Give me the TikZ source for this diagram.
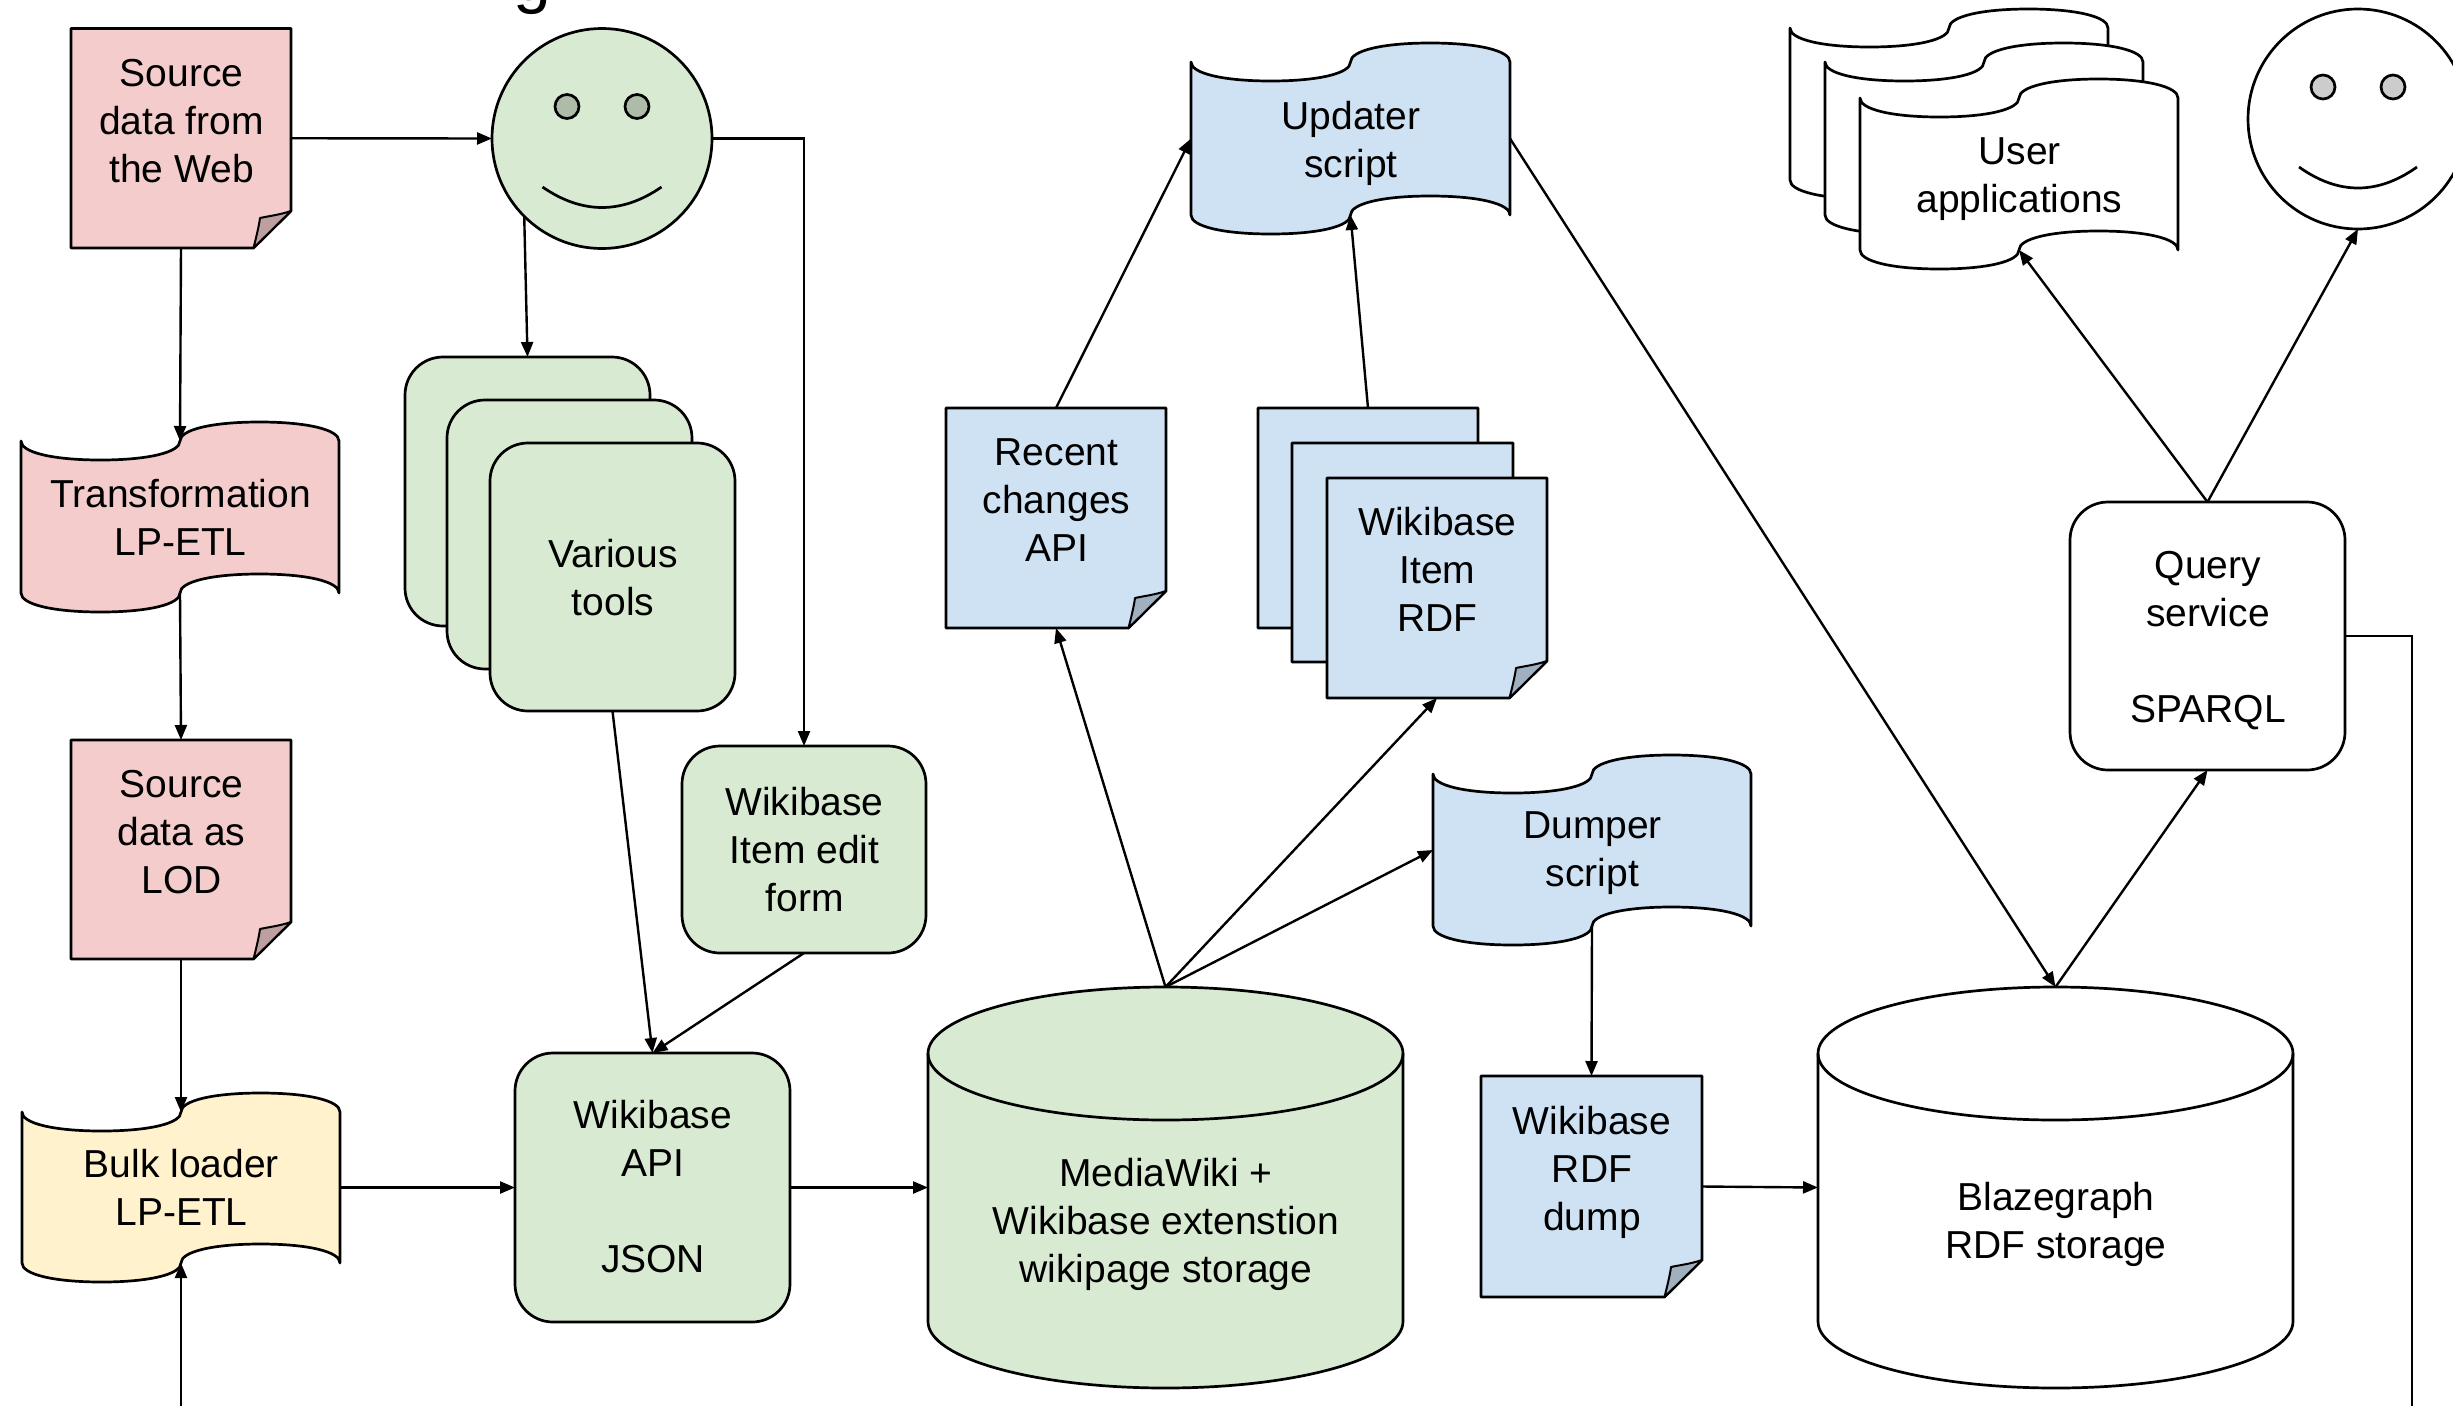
\documentclass[tikz,border=0pt]{standalone}
\usepackage{fontspec}
\setmainfont{Liberation Sans}
\usetikzlibrary{arrows.meta,calc}
\definecolor{rosefill}{HTML}{F4CCCC}
\definecolor{greenfill}{HTML}{D9EAD3}
\definecolor{bluefill}{HTML}{CFE2F3}
\definecolor{yellowfill}{HTML}{FFF2CC}
\tikzset{
  outline/.style={draw=black,line width=2.7pt,line join=round},
  anchorbox/.style={inner sep=0pt,outer sep=0pt},
  txt/.style={align=center,inner sep=0pt,font=\fontsize{39}{48}\selectfont},
  rbox/.style={outline,rectangle,rounded corners=38pt,inner sep=0pt,outer sep=0pt,align=center,font=\fontsize{39}{48}\selectfont},
  link/.style={draw=black,line width=2.4pt,-{Triangle[length=15pt,width=12pt]}},
  plainlink/.style={draw=black,line width=2.4pt},
}
% \tapeshape{name}{x0}{x1}{y0}{y1}{fill}
\newcommand{\tapeshape}[6]{%
  \pgfmathsetmacro{\wa}{#2+(#3-#2)/4}%
  \pgfmathsetmacro{\wm}{#2+(#3-#2)/2}%
  \pgfmathsetmacro{\wb}{#2+3*(#3-#2)/4}%
  \pgfmathsetmacro{\wk}{(#3-#2)/4*0.6}%
  \pgfmathsetmacro{\wh}{19}%
  \pgfmathsetmacro{\wv}{\wh*0.6}%
  \draw[outline,fill=#6]
    (#2,#4)
    .. controls (#2,#4+\wv) and (\wa-\wk,#4+\wh) .. (\wa,#4+\wh)
    .. controls (\wa+\wk,#4+\wh) and (\wm,#4+\wv) .. (\wm,#4)
    .. controls (\wm,#4-\wv) and (\wb-\wk,#4-\wh) .. (\wb,#4-\wh)
    .. controls (\wb+\wk,#4-\wh) and (#3,#4-\wv) .. (#3,#4)
    -- (#3,#5)
    .. controls (#3,#5-\wv) and (\wb+\wk,#5-\wh) .. (\wb,#5-\wh)
    .. controls (\wb-\wk,#5-\wh) and (\wm,#5-\wv) .. (\wm,#5)
    .. controls (\wm,#5+\wv) and (\wa+\wk,#5+\wh) .. (\wa,#5+\wh)
    .. controls (\wa-\wk,#5+\wh) and (#2,#5+\wv) .. (#2,#5)
    -- cycle;
  \node[anchorbox,minimum width={(#3-#2)*1pt},minimum height={(#5-#4)*1pt}] (#1) at ({(#2+#3)/2},{(#4+#5)/2}) {};
}
\newcommand{\tapetext}[3][0]{\node[txt] (#2-text) at ($(#2.center)+(0.5,#1)$) {#3};}
% \docshape{name}{x0}{x1}{y0}{y1}{fill}
\newcommand{\docshape}[6]{%
  \draw[outline,fill=#6] (#2,#4) -- (#3,#4) -- (#3,#5-37) -- (#3-37.5,#5) -- (#2,#5) -- cycle;
  \draw[outline,line width=2pt,fill=#6!78!black] (#3,#5-37)
    .. controls (#3-12,#5-33) and (#3-22,#5-32) .. (#3-31,#5-30)
    .. controls (#3-32,#5-22) and (#3-35,#5-10) .. (#3-37.5,#5) -- cycle;
  \node[anchorbox,minimum width={(#3-#2)*1pt},minimum height={(#5-#4)*1pt}] (#1) at ({(#2+#3)/2},{(#4+#5)/2}) {};
}
% \cylshape{name}{x0}{x1}{y0}{y1}{fill}
\newcommand{\cylshape}[6]{%
  \pgfmathsetmacro{\cm}{(#2+#3)/2}%
  \pgfmathsetmacro{\ck}{(#3-#2)/2*0.5523}%
  \pgfmathsetmacro{\cv}{66.5*0.5523}%
  \draw[outline,fill=#6] (#2,#4+66.5)
    .. controls (#2,#4+66.5-\cv) and (\cm-\ck,#4) .. (\cm,#4)
    .. controls (\cm+\ck,#4) and (#3,#4+66.5-\cv) .. (#3,#4+66.5)
    -- (#3,#5-66.5)
    .. controls (#3,#5-66.5+\cv) and (\cm+\ck,#5) .. (\cm,#5)
    .. controls (\cm-\ck,#5) and (#2,#5-66.5+\cv) .. (#2,#5-66.5)
    -- cycle;
  \draw[outline] (#2,#4+66.5)
    .. controls (#2,#4+66.5+\cv) and (\cm-\ck,#4+133) .. (\cm,#4+133)
    .. controls (\cm+\ck,#4+133) and (#3,#4+66.5+\cv) .. (#3,#4+66.5);
  \node[anchorbox,minimum width={(#3-#2)*1pt},minimum height={(#5-#4)*1pt}] (#1) at (\cm,{(#4+#5)/2}) {};
}
% \faceshape{name}{cx}{cy}{fill}{eye fill}{smile half width}{smile start y}{smile bottom y}
\newcommand{\faceshape}[8]{%
  \node[outline,circle,fill=#4,minimum size=220pt,inner sep=0pt,outer sep=0pt] (#1) at (#2,#3) {};
  \draw[outline,fill=#5] (#2-35,#3-32) circle[radius=12pt];
  \draw[outline,fill=#5] (#2+35,#3-32) circle[radius=12pt];
  \draw[outline] (#2-#6,#7) .. controls (#2-#6/3,#7+4/3*#8-4/3*#7) and (#2+#6/3,#7+4/3*#8-4/3*#7) .. (#2+#6,#7);%
}
\begin{document}
\begin{tikzpicture}[x=1pt,y=-1pt]
\useasboundingbox (0,0) rectangle (2453,1406);
% cut-off title fragment
\node[anchor=base west,inner sep=0pt,font=\fontsize{68}{68}\selectfont] (titlefrag) at (513,0.5) {g};

% left column
\docshape{srcweb}{71}{291}{28.5}{248}{rosefill}
\node[txt] (srcweb-text) at (181.5,121.5) {Source\\data from\\the Web};
\tapeshape{transform}{21}{339}{441}{593}{rosefill}
\tapetext{transform}{Transformation\\LP-ETL}
\docshape{srclod}{71}{291}{740}{959}{rosefill}
\node[txt] (srclod-text) at (181.5,832) {Source\\data as\\LOD};
\tapeshape{bulk}{22}{340}{1112}{1263}{yellowfill}
\tapetext{bulk}{Bulk loader\\LP-ETL}

% tools
\faceshape{editor}{602}{138.5}{greenfill}{greenfill!80!black}{59.5}{187}{207.5}
\node[rbox,fill=greenfill,minimum width=245pt,minimum height=269pt] (tools1) at (527.5,491.5) {};
\node[rbox,fill=greenfill,minimum width=245pt,minimum height=269pt] (tools2) at (569.5,534.5) {};
\node[rbox,fill=greenfill,minimum width=245pt,minimum height=268pt] (tools3) at (612.5,577) {};
\node[txt] (tools3-text) at (613,578) {Various\\tools};
\node[rbox,fill=greenfill,minimum width=244pt,minimum height=207pt] (form) at (804,849.5) {};
\node[txt] (form-text) at (804.5,849.5) {Wikibase\\Item edit\\form};
\node[rbox,fill=greenfill,minimum width=275pt,minimum height=269pt] (api) at (652.5,1187.5) {};
\node[txt] (api-text) at (653,1187) {Wikibase\\API\\\mbox{}\\JSON};

% wiki storage
\cylshape{wiki}{928}{1403}{987}{1388}{greenfill}
\node[txt] (wiki-text) at (1166,1224.5) {MediaWiki +\\Wikibase extenstion\\wikipage storage};
\docshape{recent}{946}{1166}{408}{628}{bluefill}
\node[txt] (recent-text) at (1056.5,500) {Recent\\changes\\API};
\docshape{itemA}{1258}{1478}{408}{628}{bluefill}
\docshape{itemB}{1292}{1513}{443}{662}{bluefill}
\docshape{itemC}{1327}{1547}{478}{698}{bluefill}
\node[txt] (itemC-text) at (1437.5,569) {Wikibase\\Item\\RDF};
\tapeshape{updater}{1191}{1510}{62}{215}{bluefill}
\tapetext[4.5]{updater}{Updater\\script}
\tapeshape{dumper}{1433}{1751}{774}{926}{bluefill}
\tapetext[3]{dumper}{Dumper\\script}
\docshape{dump}{1481}{1702}{1076}{1297}{bluefill}
\node[txt] (dump-text) at (1592,1172) {Wikibase\\RDF\\dump};

% RDF storage and consumers
\cylshape{blaze}{1818}{2293}{987}{1388}{white}
\node[txt] (blaze-text) at (2056,1224.5) {Blazegraph\\RDF storage};
\node[rbox,fill=white,minimum width=275pt,minimum height=268pt] (query) at (2207.5,636) {};
\node[txt] (query-text) at (2208,640.5) {Query\\service\\\mbox{}\\SPARQL};
\tapeshape{appsA}{1790}{2108}{28}{180}{white}
\tapeshape{appsB}{1825}{2143}{62}{215}{white}
\tapeshape{appsC}{1860}{2178}{98}{250}{white}
\tapetext[5]{appsC}{User\\applications}
\faceshape{user}{2358}{119}{white}{black!20}{59}{167}{188}

% connectors
\coordinate (bulkin) at (181,1406);
\coordinate (queryout) at (2412,1406);
\draw[link] (srcweb.south) -- (transform.north);
\draw[link] (transform.south) -- (srclod.north);
\draw[link] (srclod.south) -- (bulk.north);
\draw[link] (bulkin) -- (bulk.south);
\draw[link] (srcweb.east) -- (editor.west);
\draw[link] (editor.225) -- (tools1.north);
\draw[link] (editor.east) -| (form.north);
\draw[link] (tools3.south) -- (api.north);
\draw[link] (form.south) -- (api.north);
\draw[link] (bulk.east) -- (api.west);
\draw[link] (api.east) -- (wiki.west);
\draw[link] (wiki.north) -- (recent.south);
\draw[link] (wiki.north) -- (itemC.south);
\draw[link] (wiki.north) -- (dumper.west);
\draw[link] (recent.north) -- (updater.west);
\draw[link] (itemA.north) -- (updater.south);
\draw[link] (updater.east) -- (blaze.north);
\draw[link] (dumper.south) -- (dump.north);
\draw[link] (dump.east) -- (blaze.west);
\draw[link] (blaze.north) -- (query.south);
\draw[link] (query.north) -- (appsC.south);
\draw[link] (query.north) -- (user.south);
\draw[plainlink] (query.east) -| (queryout);
\end{tikzpicture}
\end{document}
